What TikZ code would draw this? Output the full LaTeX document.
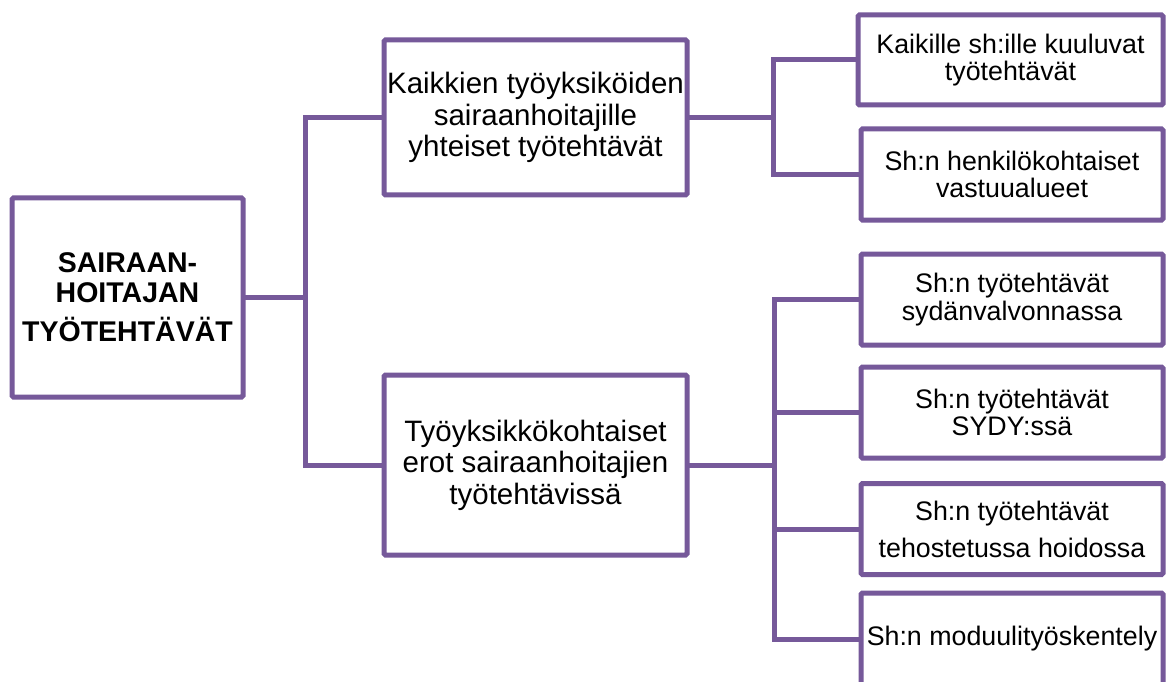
\documentclass[tikz,border=0pt]{standalone}
\usepackage{fontspec}
\setmainfont{Liberation Sans}
\definecolor{linepurple}{HTML}{76599A}
\begin{document}
\begin{tikzpicture}[x=1pt,y=-1pt,
  box/.style={draw=linepurple,line width=5pt,rounded corners=1.5pt,fill=white,
    align=center,inner sep=0pt,outer sep=0pt},
  rootbox/.style={box,minimum width=231pt,minimum height=199pt,
    font=\fontsize{28.5}{30}\selectfont\bfseries},
  midbox/.style={box,minimum width=303pt,
    font=\fontsize{29.5}{31.5}\selectfont},
  leafbox/.style={box,minimum width=302pt,minimum height=91pt,
    font=\fontsize{26.8}{27.5}\selectfont},
  conn/.style={draw=linepurple,line width=5pt}]
\clip (0,0) rectangle (1168,682);
\useasboundingbox (0,0) rectangle (1168,682);
\fill[white] (0,0) rectangle (1168,682);

\node[rootbox] (root) at (127.5,297.5) {SAIRAAN-\\HOITAJAN\\[9pt]TYÖTEHTÄVÄT};
\node[midbox,minimum height=155pt] (A) at (535.5,117.5) {Kaikkien työyksiköiden\\sairaanhoitajille\\yhteiset työtehtävät};
\node[midbox,minimum height=180pt] (B) at (535.5,465) {Työyksikkökohtaiset\\erot sairaanhoitajien\\työtehtävissä};

\node[leafbox,minimum width=305pt,minimum height=90pt] (l1) at (1010.5,60) {Kaikille sh:ille kuuluvat\\työtehtävät};
\node[leafbox] (l2) at (1012,174.5) {Sh:n henkilökohtaiset\\vastuualueet};
\node[leafbox] (l3) at (1012,299.5) {Sh:n työtehtävät\\sydänvalvonnassa};
\node[leafbox] (l4) at (1012,412.5) {Sh:n työtehtävät\\SYDY:ssä};
\node[leafbox,font=\fontsize{26.8}{37}\selectfont] (l5) at (1012,529) {Sh:n työtehtävät\\tehostetussa hoidossa};
\node[leafbox,minimum height=92pt] (l6) at (1012,639) {Sh:n moduulityöskentely};

\coordinate (j1) at (305,297.5);
\coordinate (j2) at (773,117.5);
\coordinate (j3) at (774,465);

\draw[conn] (root.east) -- (j1);
\draw[conn] (j1) |- (A.west);
\draw[conn] (j1) |- (B.west);

\draw[conn] (A.east) -- (j2);
\draw[conn] (j2) |- (l1.west);
\draw[conn] (j2) |- (l2.west);

\draw[conn] (B.east) -- (j3);
\draw[conn] (j3) |- (l3.west);
\draw[conn] (j3) |- (l4.west);
\draw[conn] (j3) |- (l5.west);
\draw[conn] (j3) |- (l6.west);
\end{tikzpicture}
\end{document}
